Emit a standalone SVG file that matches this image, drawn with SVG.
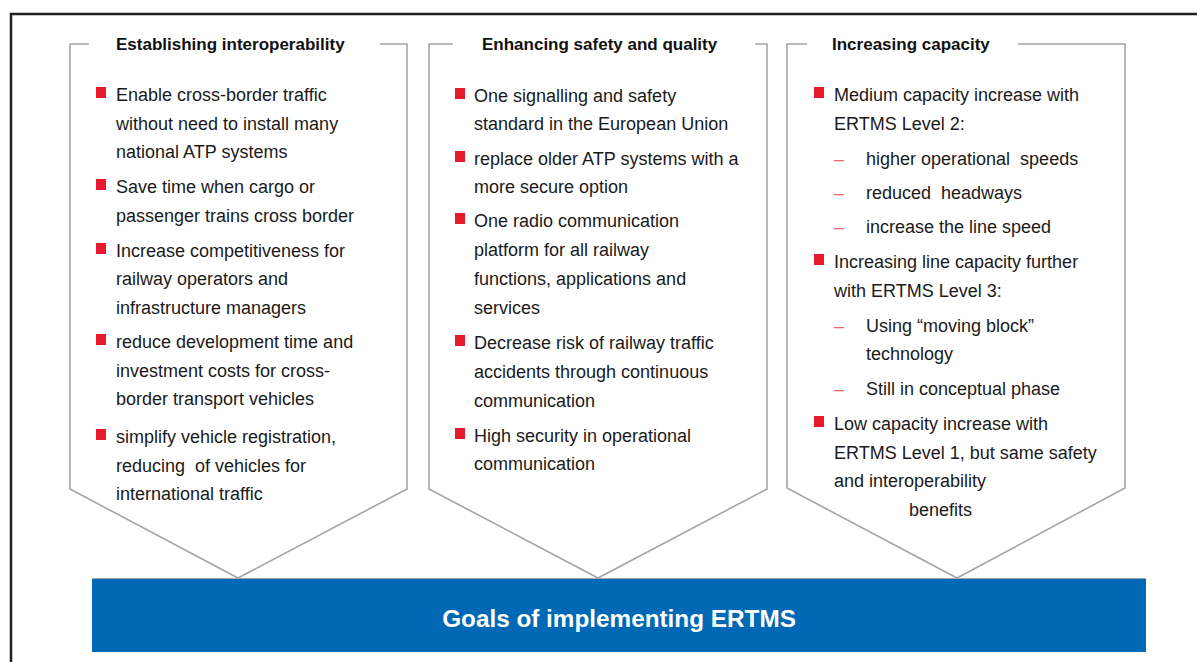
<svg xmlns="http://www.w3.org/2000/svg" width="1197" height="662" viewBox="0 0 1197 662">
<style>
.frame{fill:none;stroke:#222;stroke-width:2.5}
.pent{fill:#fff;stroke:#a2a5aa;stroke-width:1.6;stroke-linejoin:miter}
.hd{font-family:"Liberation Sans",Arial,sans-serif;font-weight:bold;font-size:17px;fill:#111}
.tx{font-family:"Liberation Sans",Arial,sans-serif;font-size:18px;fill:#1a1a1a;white-space:pre}
.dash{font-family:"Liberation Sans",Arial,sans-serif;font-size:18px;fill:#f0646e}
.bul{fill:#e8192c}
.title{font-family:"Liberation Sans",Arial,sans-serif;font-weight:bold;font-size:24.3px;fill:#fff}
</style>
<rect x="0" y="0" width="1197" height="662" fill="#fff"/>
<path class="frame" d="M11,662 L11,14 L1197,14"/>

<g id="goal">
<rect x="92" y="578" width="1054" height="74" fill="#0068b4"/>
<line x1="92" y1="578.5" x2="1146" y2="578.5" stroke="#a2a5aa" stroke-width="1"/>
<text class="title" x="619" y="627" text-anchor="middle">Goals of implementing ERTMS</text>
</g>

<g id="interoperability">
<path class="pent" d="M89,44 L70,44 L70,489 L238,578 L407,489 L407,44 L380,44"/>
<text class="hd" x="116" y="50">Establishing interoperability</text>
<rect class="bul" x="96" y="87" width="10" height="11"/>
<text class="tx" x="116" y="101">Enable cross-border traffic</text>
<text class="tx" x="116" y="130">without need to install many</text>
<text class="tx" x="116" y="158">national ATP systems</text>
<rect class="bul" x="96" y="179" width="10" height="11"/>
<text class="tx" x="116" y="193">Save time when cargo or</text>
<text class="tx" x="116" y="222">passenger trains cross border</text>
<rect class="bul" x="96" y="243" width="10" height="11"/>
<text class="tx" x="116" y="257">Increase competitiveness for</text>
<text class="tx" x="116" y="285">railway operators and</text>
<text class="tx" x="116" y="314">infrastructure managers</text>
<rect class="bul" x="96" y="334" width="10" height="11"/>
<text class="tx" x="116" y="348">reduce development time and</text>
<text class="tx" x="116" y="377">investment costs for cross-</text>
<text class="tx" x="116" y="405">border transport vehicles</text>
<rect class="bul" x="96" y="429" width="10" height="11"/>
<text class="tx" x="116" y="443">simplify vehicle registration,</text>
<text class="tx" x="116" y="472">reducing  of vehicles for</text>
<text class="tx" x="116" y="500">international traffic</text>
</g>

<g id="safety">
<path class="pent" d="M453,44 L429,44 L429,489 L598,578 L767,489 L767,44 L755,44"/>
<text class="hd" x="482" y="50">Enhancing safety and quality</text>
<rect class="bul" x="455" y="88" width="10" height="11"/>
<text class="tx" x="474" y="102">One signalling and safety</text>
<text class="tx" x="474" y="130">standard in the European Union</text>
<rect class="bul" x="455" y="151" width="10" height="11"/>
<text class="tx" x="474" y="165">replace older ATP systems with a</text>
<text class="tx" x="474" y="193">more secure option</text>
<rect class="bul" x="455" y="213" width="10" height="11"/>
<text class="tx" x="474" y="227">One radio communication</text>
<text class="tx" x="474" y="256">platform for all railway</text>
<text class="tx" x="474" y="285">functions, applications and</text>
<text class="tx" x="474" y="314">services</text>
<rect class="bul" x="455" y="335" width="10" height="11"/>
<text class="tx" x="474" y="349">Decrease risk of railway traffic</text>
<text class="tx" x="474" y="378">accidents through continuous</text>
<text class="tx" x="474" y="407">communication</text>
<rect class="bul" x="455" y="428" width="10" height="11"/>
<text class="tx" x="474" y="442">High security in operational</text>
<text class="tx" x="474" y="470">communication</text>
</g>

<g id="capacity">
<path class="pent" d="M807,44 L787,44 L787,488 L957,578 L1125,488 L1125,44 L1018,44"/>
<text class="hd" x="832" y="50">Increasing capacity</text>
<rect class="bul" x="814" y="87" width="10" height="11"/>
<text class="tx" x="834" y="101">Medium capacity increase with</text>
<text class="tx" x="834" y="130">ERTMS Level 2:</text>
<text class="dash" x="834" y="165">–</text>
<text class="tx" x="866" y="165">higher operational  speeds</text>
<text class="dash" x="834" y="199">–</text>
<text class="tx" x="866" y="199">reduced  headways</text>
<text class="dash" x="834" y="233">–</text>
<text class="tx" x="866" y="233">increase the line speed</text>
<rect class="bul" x="814" y="254" width="10" height="11"/>
<text class="tx" x="834" y="268">Increasing line capacity further</text>
<text class="tx" x="834" y="297">with ERTMS Level 3:</text>
<text class="dash" x="834" y="332">–</text>
<text class="tx" x="866" y="332">Using “moving block”</text>
<text class="tx" x="866" y="360">technology</text>
<text class="dash" x="834" y="395">–</text>
<text class="tx" x="866" y="395">Still in conceptual phase</text>
<rect class="bul" x="814" y="416" width="10" height="11"/>
<text class="tx" x="834" y="430">Low capacity increase with</text>
<text class="tx" x="834" y="459">ERTMS Level 1, but same safety</text>
<text class="tx" x="834" y="487">and interoperability</text>
<text class="tx" x="909" y="516">benefits</text>
</g>
</svg>
